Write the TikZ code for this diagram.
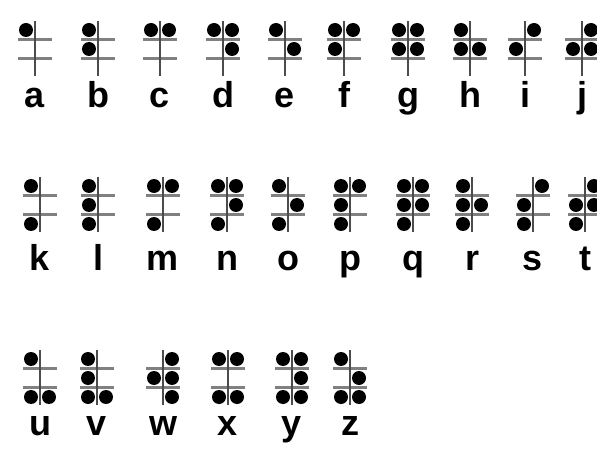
\documentclass[tikz,border=0pt]{standalone}
\usepackage{fontspec}
\setsansfont{Liberation Sans}
\tikzset{
  dotmark/.style={circle, fill=black, inner sep=0pt, minimum size=14pt},
  rule/.style={draw=black!50, line width=2.2pt},
  stem/.style={draw=black!70, line width=1.4pt},
  glyph/.style={font=\fontsize{36}{36}\selectfont\sffamily\bfseries, inner sep=0pt},
}
% #1 letter, #2 x of the stem, #3 y of the middle dot row, #4 baseline, #5 dot list
\newcommand{\braillecell}[5]{%
  \draw[rule] (#2-17,#3-9.5) -- (#2+17,#3-9.5);
  \draw[rule] (#2-17,#3+9.5) -- (#2+17,#3+9.5);
  \draw[stem] (#2,#3-28) -- (#2,#3+27);
  \foreach \d in #5 {
    \pgfmathsetmacro\dx{\d>3 ? 9 : -9}
    \pgfmathsetmacro\dy{(mod(\d-1,3)-1)*19}
    \node[dotmark] (#1-\d) at (#2+\dx,#3+\dy) {};
  }
  \node[glyph, anchor=base] (lbl-#1) at (#2,#4) {#1};
}

\begin{document}
\begin{tikzpicture}[x=1pt, y=-1pt]
  \useasboundingbox (0,0) rectangle (597,465);
  \clip (0,0) rectangle (597,465);
  % first row
  \foreach \ch/\cx/\pat in {a/35/{1}, b/98/{1,2}, c/160/{1,4}, d/223/{1,4,5},
      e/285/{1,5}, f/344/{1,2,4}, g/408/{1,2,4,5}, h/470/{1,2,5},
      i/525/{2,4}, j/582/{2,4,5}}
    \braillecell{\ch}{\cx}{49}{108}{\pat};
  % second row
  \foreach \ch/\cx/\pat in {k/40/{1,3}, l/98/{1,2,3}, m/163/{1,3,4}, n/227/{1,3,4,5},
      o/288/{1,3,5}, p/350/{1,2,3,4}, q/413/{1,2,3,4,5}, r/472/{1,2,3,5},
      s/533/{2,3,4}, t/585/{2,3,4,5}}
    \braillecell{\ch}{\cx}{205}{270}{\pat};
  % third row
  \foreach \ch/\cx/\pat in {u/40/{1,3,6}, v/97/{1,2,3,6}, w/163/{2,4,5,6},
      x/228/{1,3,4,6}, y/292/{1,3,4,5,6}, z/350/{1,3,5,6}}
    \braillecell{\ch}{\cx}{378}{435}{\pat};
\end{tikzpicture}
\end{document}
